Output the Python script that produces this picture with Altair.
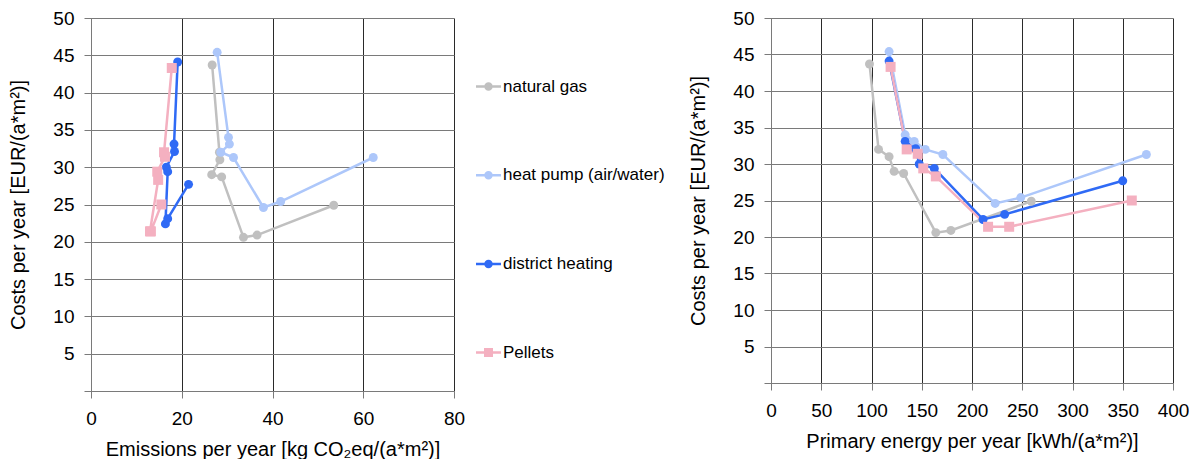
import altair as alt
import pandas as pd

series = ["natural gas", "heat pump (air/water)", "district heating", "Pellets"]
colors = ["#c0c0c0", "#adc7fa", "#2f6af5", "#f4b0c0"]

gas_emis = [26.7, 28.3, 28.4, 26.6, 28.8, 33.6, 36.6, 53.5]
gas_pe = [98, 107, 117.5, 122.5, 132, 164, 179, 259]
gas_cost = [43.7, 32.0, 31.0, 29.0, 28.7, 20.6, 20.9, 24.9]

hp_emis = [27.8, 30.3, 30.5, 28.6, 31.4, 38.0, 41.8, 62.2]
hp_pe = [117.5, 133.5, 142.5, 153.5, 171, 223, 248.5, 373.5]
hp_cost = [45.4, 34.0, 33.1, 32.0, 31.3, 24.6, 25.4, 31.3]

dh_emis = [19.1, 18.3, 18.4, 16.6, 16.9, 16.4, 16.9, 21.5]
dh_pe = [117.5, 133.5, 144, 147.5, 162.5, 211, 232.5, 350]
dh_cost = [44.1, 33.1, 32.1, 30.0, 29.4, 22.4, 23.1, 27.7]

pel_emis = [17.8, 16.1, 16.3, 14.6, 14.8, 13.0, 13.2, 15.5]
pel_pe = [119, 135, 146, 151.5, 164, 216, 237, 359]
pel_cost = [43.3, 32.0, 31.4, 29.4, 28.3, 21.4, 21.4, 25.0]

y_ticks = [0, 5, 10, 15, 20, 25, 30, 35, 40, 45, 50]
x1_ticks = [0, 20, 40, 60, 80]
x2_ticks = [0, 50, 100, 150, 200, 250, 300, 350, 400]

rows = []
for name, em, pe, co in [
    (series[0], gas_emis, gas_pe, gas_cost),
    (series[1], hp_emis, hp_pe, hp_cost),
    (series[2], dh_emis, dh_pe, dh_cost),
    (series[3], pel_emis, pel_pe, pel_cost),
]:
    for i in range(len(co)):
        rows.append({"series": name, "idx": i, "emis": em[i], "pe": pe[i], "cost": co[i]})
df = pd.DataFrame(rows)

FONT = "Liberation Sans"

# legend symbols: line stub + marker (filled paths)
stub = "M-1,-0.1L-0.33,-0.1L-0.33,0.1L-1,0.1Z M0.33,-0.1L1,-0.1L1,0.1L0.33,0.1Z "
circle_sym = stub + "M0.34,0A0.34,0.34,0,1,1,-0.34,0A0.34,0.34,0,1,1,0.34,0Z"
square_sym = stub + "M-0.36,-0.36L0.36,-0.36L0.36,0.36L-0.36,0.36Z"
legend_shapes = [circle_sym, circle_sym, circle_sym, square_sym]

legend = alt.Legend(
    orient="none", legendX=385, legendY=56, title=None, padding=0,
    labelFont=FONT, labelFontSize=17, labelColor="black", labelOffset=2, labelLimit=300,
    symbolSize=625, symbolStrokeWidth=0, symbolOpacity=1, rowPadding=67.7,
)

color_scale = alt.Scale(domain=series, range=colors)


def y_axis():
    return alt.Axis(values=y_ticks, labelExpr="datum.value == 0 ? '' : datum.label",
                    gridColor="#7a7a7a", title="Costs per year [EUR/(a*m²)]",
                    labelPadding=10, titlePadding=24)


def x_axis(vals, title):
    return alt.Axis(values=vals, gridColor="#2a2a2a", title=title,
                    labelPadding=11, titlePadding=11)


def panel(xfield, vals, xdomain, title, w, h, with_legend):
    base = alt.Chart(df).encode(
        x=alt.X(f"{xfield}:Q", scale=alt.Scale(domain=xdomain, nice=False), axis=x_axis(vals, title)),
        y=alt.Y("cost:Q", scale=alt.Scale(domain=[0, 50], nice=False), axis=y_axis()),
        order=alt.Order("idx:Q"),
    )
    col = alt.Color("series:N", scale=color_scale, legend=None)
    line = base.mark_line(strokeWidth=2.5).encode(color=col, detail="series:N")
    circles = base.mark_circle(size=80, opacity=1).encode(color=col).transform_filter(
        "datum.series != 'Pellets'")
    squares = base.mark_square(size=100, opacity=1).encode(color=col).transform_filter(
        "datum.series == 'Pellets'")
    layers = [line, circles, squares]
    if with_legend:
        leg = base.mark_point(filled=True, size=0).encode(
            color=alt.Color("series:N", scale=color_scale, legend=legend),
            shape=alt.Shape("series:N", scale=alt.Scale(domain=series, range=legend_shapes), legend=legend),
        )
        layers = [leg] + layers
    return alt.layer(*layers).properties(width=w, height=h)


left = panel("emis", x1_ticks, [0, 80], "Emissions per year [kg CO₂eq/(a*m²)]", 363, 373, True)
right = panel("pe", x2_ticks, [0, 400], "Primary energy per year [kWh/(a*m²)]", 402, 365, False)

chart = alt.hconcat(left, right, spacing=23).resolve_legend(
    color="independent", shape="independent"
).properties(
    padding={"left": 0, "top": 1, "right": 0, "bottom": 0}
).configure_view(stroke=None).configure_axis(
    labelFont=FONT, titleFont=FONT, labelFontSize=19, titleFontSize=20,
    labelColor="black", titleColor="black", titleFontWeight="normal",
    domainColor="#7a7a7a", tickColor="#7a7a7a", tickSize=7, gridWidth=1, gridOpacity=1,
    labelFlush=False,
)

chart.save("out.html", embed_options={"renderer": "svg", "actions": False})
